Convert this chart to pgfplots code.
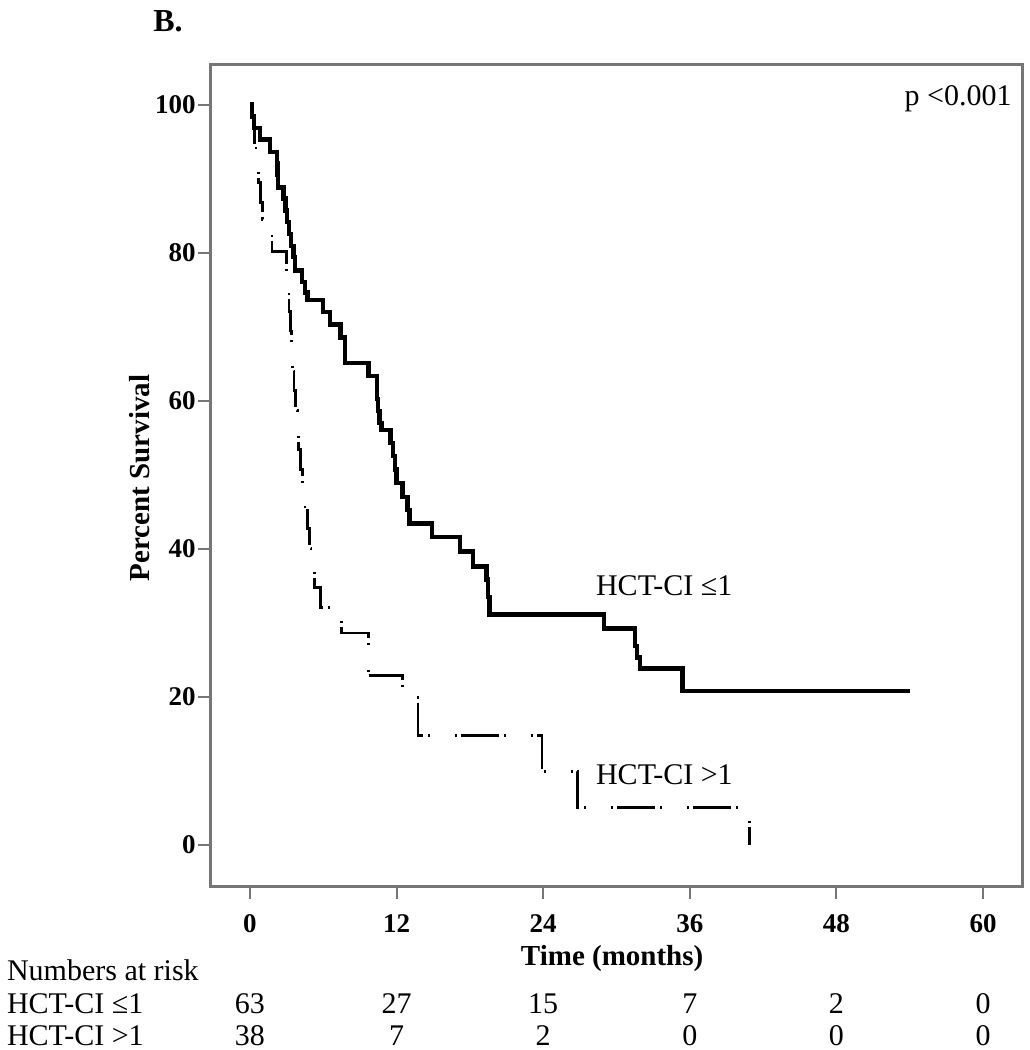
\documentclass[border=0pt]{standalone}
\usepackage{fontspec}
\setmainfont{Liberation Serif}
\usepackage{pgfplots}
\pgfplotsset{compat=1.18}
\definecolor{framegray}{RGB}{118,118,118}
\tikzset{risk/.style={font=\fontsize{15}{18}\selectfont}}

\begin{document}
\begin{tikzpicture}
\begin{axis}[
    scale only axis,
    width=406pt, height=410.5pt,
    xmin=-3.19, xmax=63.27,
    ymin=-5.59, ymax=105.35,
    xtick={0,12,...,60},
    ytick={0,20,...,100},
    axis line style={framegray, line width=1.5pt},
    tick style={framegray, line width=1pt},
    tick align=outside,
    major tick length=6.5pt,
    tick pos=left,
    /pgf/number format/assume math mode=true,
    tick label style={font=\fontsize{13.5}{16}\selectfont\bfseries, inner sep=1pt},
    xticklabel style={yshift=-6.5pt},
    xlabel={Time (months)},
    ylabel={Percent Survival},
    label style={font=\fontsize{14.5}{17}\selectfont\bfseries},
    xlabel style={at={(rel axis cs:0.494,-0.0889)}, anchor=center},
    ylabel style={at={(rel axis cs:-0.0874,0.497)}, anchor=center},
    clip=false,
  ]
  % HCT-CI <= 1
  \addplot[const plot, black, line width=2.2pt] coordinates {
      (0,100) (0.15,98.4) (0.35,96.8) (0.8,95.3) (1.65,93.6)
      (2.2,92.1) (2.25,90.5) (2.3,88.8) (2.75,87.3) (2.9,85.7)
      (3.05,84.1) (3.2,82.5) (3.35,80.9) (3.55,79.4) (3.7,77.6)
      (4.25,76.0) (4.5,74.6) (4.7,73.6) (6.0,72.0) (6.55,70.3)
      (7.4,68.5) (7.8,65.1) (9.7,63.3) (10.4,60.2) (10.5,58.6)
      (10.6,57.0) (10.75,56.0) (11.5,54.3) (11.7,52.5) (11.85,50.7)
      (12.0,48.9) (12.5,47.0) (12.9,45.2) (13.05,43.4) (14.9,41.6)
      (17.2,39.6) (18.25,37.6) (19.35,35.8) (19.5,33.5) (19.6,31.1)
      (29.0,29.2) (31.5,26.8) (31.7,25.3) (31.9,23.8) (35.4,20.8)
      (54.0,20.8)
    };
  % HCT-CI > 1
  \addplot[const plot, black, line width=1.4pt,
      dash pattern=on 1pt off 2pt on 19pt off 2.5pt on 1pt off 12.5pt] coordinates {
      (0,100) (0.25,97.4) (0.4,94.7) (0.5,92.1) (0.7,89.5)
      (0.85,86.8) (1.0,84.5) (1.8,80.1) (3.0,77.4) (3.1,74.7)
      (3.2,72.0) (3.3,69.4) (3.4,66.7) (3.5,64.0) (3.6,61.4)
      (3.75,58.7) (3.9,56.0) (4.0,53.4) (4.15,50.7) (4.3,48.0)
      (4.5,45.4) (4.7,42.7) (4.85,40.0) (5.0,37.4) (5.3,34.7)
      (5.8,32.0) (7.5,28.6) (9.7,22.9) (12.5,19.9) (13.75,14.7)
      (23.9,9.9) (26.8,5.0) (40.9,0)
    };
  \node[risk, anchor=base west] at (axis cs:53.0,99.9) {p <0.001};
  \node[risk, anchor=base west] at (axis cs:27.75,33.7) {HCT-CI ≤1};
  \node[risk, anchor=base west] at (axis cs:27.75,8.1) {HCT-CI >1};
  \node[anchor=base west, inner sep=0pt, font=\fontsize{16}{19}\selectfont\bfseries] at (axis cs:-7.94,109.9) {B.};
  % numbers at risk
  \node[risk, anchor=base west] at (axis cs:-20.46,-18.3) {Numbers at risk};
  \node[risk, anchor=base west] at (axis cs:-20.46,-22.76) {HCT-CI ≤1};
  \node[risk, anchor=base west] at (axis cs:-20.46,-27.15) {HCT-CI >1};
  \node[risk, anchor=base] at (axis cs:0,-22.76) {63};
  \node[risk, anchor=base] at (axis cs:12,-22.76) {27};
  \node[risk, anchor=base] at (axis cs:24,-22.76) {15};
  \node[risk, anchor=base] at (axis cs:36,-22.76) {7};
  \node[risk, anchor=base] at (axis cs:48,-22.76) {2};
  \node[risk, anchor=base] at (axis cs:60,-22.76) {0};
  \node[risk, anchor=base] at (axis cs:0,-27.15) {38};
  \node[risk, anchor=base] at (axis cs:12,-27.15) {7};
  \node[risk, anchor=base] at (axis cs:24,-27.15) {2};
  \node[risk, anchor=base] at (axis cs:36,-27.15) {0};
  \node[risk, anchor=base] at (axis cs:48,-27.15) {0};
  \node[risk, anchor=base] at (axis cs:60,-27.15) {0};
\end{axis}
\pgfresetboundingbox
\path[use as bounding box] ([shift={(-105.5pt,-82pt)}]current axis.south west)
  rectangle ([shift={(3.5pt,32.5pt)}]current axis.north east);
\end{tikzpicture}
\end{document}
